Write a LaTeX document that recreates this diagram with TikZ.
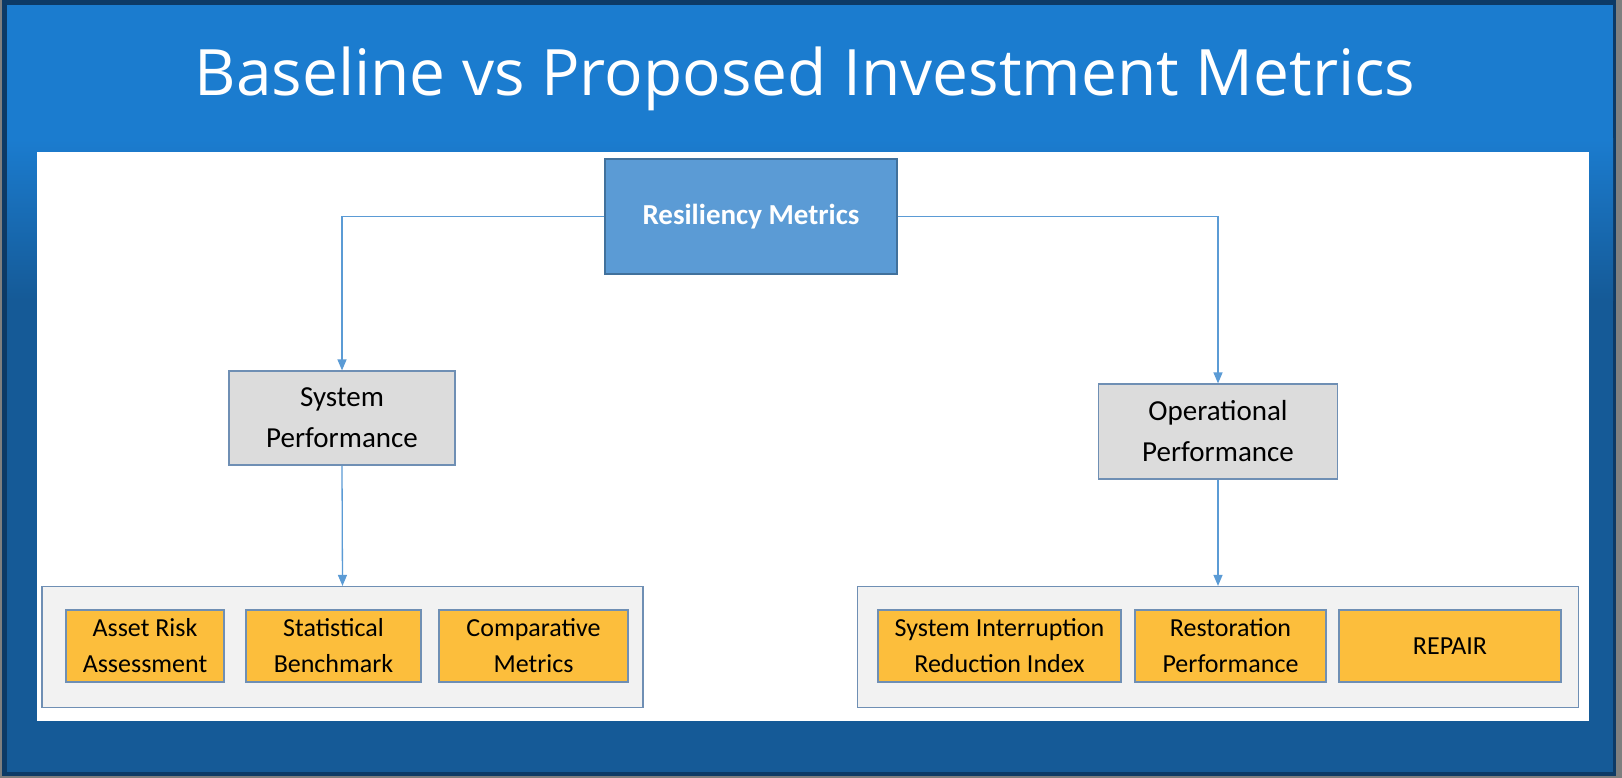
\documentclass[tikz,border=0pt]{standalone}
\usepackage{fontspec}
\setmainfont{Carlito}
\newfontfamily\titlefont{Open Sans}
\usetikzlibrary{arrows.meta}
\definecolor{framegrey}{HTML}{7F7F7F}
\definecolor{framenavy}{HTML}{0D3A66}
\definecolor{skyblue}{HTML}{1B7CCF}
\definecolor{deepblue}{HTML}{155A97}
\definecolor{rootfill}{HTML}{5B9BD5}
\definecolor{rootline}{HTML}{41719C}
\definecolor{midfill}{HTML}{DCDCDC}
\definecolor{boxline}{HTML}{6F8FB4}
\definecolor{groupfill}{HTML}{F2F2F2}
\definecolor{leaffill}{HTML}{FCBE3C}
\definecolor{linkblue}{HTML}{5B9BD5}
\tikzset{
	rootbox/.style={draw=rootline, fill=rootfill, line width=1.2pt, inner sep=0pt, text=white, font=\fontsize{29}{33}\selectfont\bfseries},
	midbox/.style={draw=boxline, fill=midfill, line width=1.2pt, inner sep=0pt, align=center, font=\fontsize{29}{41}\selectfont},
	groupbox/.style={draw=boxline, fill=groupfill, line width=1.2pt, inner sep=0pt},
	leafbox/.style={draw=boxline, fill=leaffill, line width=1.2pt, inner sep=0pt, align=center, font=\fontsize{26}{36}\selectfont},
	link/.style={draw=linkblue, line width=1.3pt, -{Triangle[length=11pt,width=9pt]}},
}
\begin{document}
\begin{tikzpicture}[x=1pt,y=-1pt]
				\useasboundingbox (0,0) rectangle (1622,778);
				\fill[framegrey] (0,0) rectangle (1622,778);
				\fill[framenavy] (2,0) rectangle (1616,776);
				\fill[deepblue] (7,5) rectangle (1613,772);
				\fill[skyblue] (7,5) rectangle (1613,140);
				\shade[top color=skyblue, bottom color=deepblue] (7,139) rectangle (1613,300);
				\fill[white] (37,152) rectangle (1589,721);
				\node[anchor=base, text=white, font=\titlefont\fontsize{64}{70}\selectfont] (title) at (805,96) {Baseline vs Proposed Investment Metrics};
				\node[rootbox, minimum width=292pt, minimum height=115pt] (root) at (751,216.5) {Resiliency Metrics};
				\node[midbox, minimum width=226pt, minimum height=94pt] (sysperf) at (342,418) {System\\Performance};
				\node[midbox, minimum width=239pt, minimum height=95pt] (opperf) at (1218,431.5) {Operational\\Performance};
				\node[groupbox, minimum width=601pt, minimum height=121pt] (leftgrp) at (342.5,647) {};
				\node[groupbox, minimum width=721pt, minimum height=121pt] (rightgrp) at (1218,647) {};
				\node[leafbox, minimum width=158pt, minimum height=72pt] (asset) at (145,646) {Asset Risk\\Assessment};
				\node[leafbox, minimum width=175pt, minimum height=72pt] (stat) at (333.5,646) {Statistical\\Benchmark};
				\node[leafbox, minimum width=189pt, minimum height=72pt] (comp) at (533.5,646) {Comparative\\Metrics};
				\node[leafbox, minimum width=243pt, minimum height=72pt] (siri) at (999.5,646) {System Interruption\\Reduction Index};
				\node[leafbox, minimum width=191pt, minimum height=72pt] (rest) at (1230.5,646) {Restoration\\Performance};
				\node[leafbox, minimum width=222pt, minimum height=72pt] (repair) at (1450,646) {REPAIR};
				\draw[link] (root.west) -| (sysperf.north);
				\draw[link] (root.east) -| (opperf.north);
				\draw[link] (sysperf.south) -- (leftgrp.north);
				\draw[link] (opperf.south) -- (rightgrp.north);
			\end{tikzpicture}
\end{document}
